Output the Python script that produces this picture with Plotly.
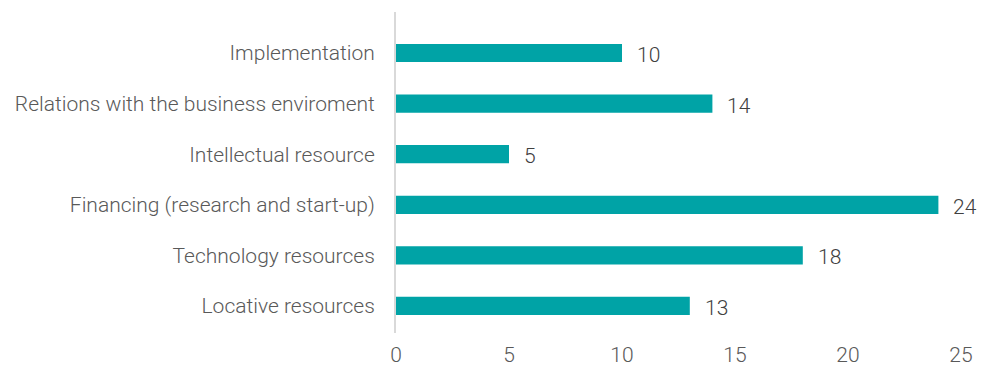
import plotly.graph_objects as go

categories = ["Locative resources", "Technology resources", "Financing (research and start-up)",
              "Intellectual resource", "Relations with the business enviroment", "Implementation"]
values = [13, 18, 24, 5, 14, 10]
x_ticks = [0, 5, 10, 15, 20, 25]

FONT = dict(family="Roboto", size=21, color="#595959", weight=300)

fig = go.Figure(go.Bar(
    y=categories, x=values, orientation="h",
    marker=dict(color="#00A3A6", line=dict(width=0)),
    width=0.36, hoverinfo="skip",
))

for c, v in zip(categories, values):
    fig.add_annotation(x=v, y=c, text=str(v), showarrow=False, xanchor="left",
                       xshift=13, yshift=-2,
                       font=dict(family="Roboto", size=21, color="#404040", weight=300))

fig.update_layout(
    width=981, height=366,
    margin=dict(l=396, r=20, t=12, b=33, autoexpand=False),
    plot_bgcolor="white", paper_bgcolor="white",
    showlegend=False,
    font=FONT,
    xaxis=dict(range=[0, 25], tickvals=x_ticks, showgrid=False, zeroline=False,
               showline=False, ticks="", ticklabelstandoff=7, automargin=False,
               tickfont=FONT),
    yaxis=dict(type="category", categoryorder="array", categoryarray=categories,
               range=[-0.534, 5.81], showgrid=False, zeroline=False,
               showline=True, linecolor="#D9D9D9", linewidth=2, ticks="",
               ticklabelstandoff=15, automargin=False,
               tickfont=FONT),
)

fig.write_html("out.html")
